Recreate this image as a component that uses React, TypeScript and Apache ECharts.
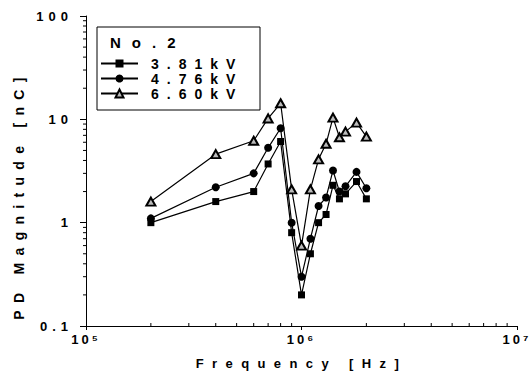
import React, { useEffect, useRef } from 'react';
import * as echarts from 'echarts';

// Frequency points [Hz]
const frequencies = [2e5, 4e5, 6e5, 7e5, 8e5, 9e5, 1e6, 1.1e6, 1.2e6, 1.3e6, 1.4e6, 1.5e6, 1.6e6, 1.8e6, 2e6];
// PD magnitude [nC]
const pd381 = [1.0, 1.6, 2.0, 3.7, 6.1, 0.8, 0.2, 0.5, 1.0, 1.2, 2.3, 1.7, 1.9, 2.5, 1.7];
const pd476 = [1.1, 2.2, 3.0, 5.3, 8.2, 1.0, 0.3, 0.7, 1.45, 1.75, 3.2, 2.0, 2.25, 3.1, 2.15];
const pd660 = [1.6, 4.6, 6.2, 10.2, 14.3, 2.1, 0.6, 2.1, 4.1, 5.8, 10.4, 6.7, 7.6, 9.3, 6.8];

const seriesNames = ['3.81kV', '4.76kV', '6.60kV'];
const legendTitle = 'No.2';
const xAxisName = 'Frequency [Hz]';
const yAxisName = 'PD Magnitude [nC]';
const xTickLabels: Record<number, string> = { 5: '10⁵', 6: '10⁶', 7: '10⁷' };

// minor tick values (2..9 within each decade)
const xMinorTicks: number[] = [];
[1e5, 1e6].forEach((d) => { for (let k = 2; k <= 9; k++) xMinorTicks.push(k * d); });
const yMinorTicks: number[] = [];
[0.1, 1, 10].forEach((d) => { for (let k = 2; k <= 9; k++) yMinorTicks.push(+(k * d).toPrecision(3)); });

export default function App() {
  const ref = useRef<HTMLDivElement>(null);

  useEffect(() => {
    const el = ref.current!;
    const chart = echarts.init(el, undefined, { renderer: 'svg' });
    const font = "'Liberation Sans', Arial, sans-serif";

    const mk = (name: string, vals: number[], symbol: string, size: any, fill: string, bw: number) => ({
      name,
      type: 'line',
      data: frequencies.map((f, i) => [f, vals[i]]),
      symbol,
      symbolSize: size,
      showAllSymbol: true,
      lineStyle: { color: '#000', width: 1.2 },
      itemStyle: { color: fill, borderColor: '#000', borderWidth: bw },
      z: 3,
    });

    const option: any = {
      animation: false,
      backgroundColor: '#fff',
      textStyle: { fontFamily: font },
      grid: { left: 86, right: 13, top: 16, bottom: 54, containLabel: false },
      xAxis: {
        type: 'log',
        logBase: 10,
        min: 1e5,
        max: 1e7,
        name: xAxisName,
        nameLocation: 'middle',
        nameGap: 31,
        nameTextStyle: { fontSize: 13, fontWeight: 'bold', color: '#000', fontFamily: font },
        axisLine: { lineStyle: { color: '#000', width: 1 } },
        axisTick: { show: true, inside: false, length: 4, lineStyle: { color: '#000' } },
        axisLabel: {
          color: '#000', fontSize: 13, fontWeight: 'bold', fontFamily: font, margin: 7,
          formatter: (v: number) => xTickLabels[Math.round(Math.log10(v))] || '',
        },
        splitLine: { show: false },
        minorTick: { show: false },
      },
      yAxis: {
        type: 'log',
        logBase: 10,
        min: 0.1,
        max: 100,
        name: yAxisName,
        nameLocation: 'middle',
        nameRotate: 90,
        nameGap: 60,
        nameTextStyle: { fontSize: 14, fontWeight: 'bold', color: '#000', fontFamily: font, padding: [0, 48, 0, 0] },
        axisLine: { lineStyle: { color: '#000', width: 1 } },
        axisTick: { show: true, inside: false, length: 6, lineStyle: { color: '#000' } },
        axisLabel: {
          color: '#000', fontSize: 13, fontWeight: 'bold', fontFamily: font, margin: 13,
          formatter: (v: number) => String(+v.toPrecision(3)),
        },
        splitLine: { show: false },
        minorTick: { show: false },
      },
      legend: {
        data: seriesNames,
        orient: 'vertical',
        left: 100,
        top: 56,
        padding: 0,
        itemGap: 0,
        itemWidth: 37,
        itemHeight: 10,
        selectedMode: false,
        textStyle: { fontSize: 14, fontWeight: 'bold', color: '#000', fontFamily: font, lineHeight: 15, padding: [0, 0, 0, 8] },
      },
      graphic: [
        {
          type: 'rect',
          shape: { x: 97, y: 27, width: 163, height: 83 },
          style: { fill: '#fff', stroke: '#000', lineWidth: 1 },
          z: 0,
        },
        {
          type: 'text',
          x: 110,
          y: 42,
          style: { text: legendTitle, fontSize: 15, fontWeight: 'bold', fontFamily: font, fill: '#000', verticalAlign: 'middle' },
          z: 1,
        },
      ],
      series: [
        mk(seriesNames[0], pd381, 'rect', 7, '#000', 0),
        mk(seriesNames[1], pd476, 'circle', 8, '#000', 0),
        mk(seriesNames[2], pd660, 'triangle', [9, 8], '#bbb', 2),
        {
          type: 'custom',
          silent: true,
          clip: false,
          data: xMinorTicks.map((v) => [v, 0.1]),
          renderItem: (params: any, api: any) => {
            const p = api.coord([api.value(0), api.value(1)]);
            return { type: 'line', shape: { x1: p[0], y1: p[1], x2: p[0], y2: p[1] - 3 }, style: { stroke: '#000', lineWidth: 1 } };
          },
          z: 2,
        },
        {
          type: 'custom',
          silent: true,
          clip: false,
          data: yMinorTicks.map((v) => [1e5, v]),
          renderItem: (params: any, api: any) => {
            const p = api.coord([api.value(0), api.value(1)]);
            return { type: 'line', shape: { x1: p[0] - 3, y1: p[1], x2: p[0], y2: p[1] }, style: { stroke: '#000', lineWidth: 1 } };
          },
          z: 2,
        },
      ],
    };

    chart.setOption(option);

    const spacingFor = (s: string): number => {
      if (s === xAxisName) return 8.4;
      if (s === yAxisName) return 7.3;
      if (s === legendTitle) return 11;
      if (seriesNames.indexOf(s) >= 0) return 8;
      if (Object.values(xTickLabels).indexOf(s) >= 0) return 3;
      if (['0.1', '1', '10', '100'].indexOf(s) >= 0) return 5;
      return 0;
    };
    const applySpacing = () => {
      el.querySelectorAll('text').forEach((node) => {
        const s = (node.textContent || '').trim();
        const ls = spacingFor(s);
        if (ls) node.setAttribute('letter-spacing', String(ls));
      });
    };
    applySpacing();
    chart.on('finished', applySpacing);
    const t = setTimeout(applySpacing, 50);

    return () => {
      clearTimeout(t);
      chart.dispose();
    };
  }, []);

  return <div ref={ref} style={{ position: 'fixed', left: 0, top: 0, width: 530, height: 380, background: '#fff' }} />;
}
